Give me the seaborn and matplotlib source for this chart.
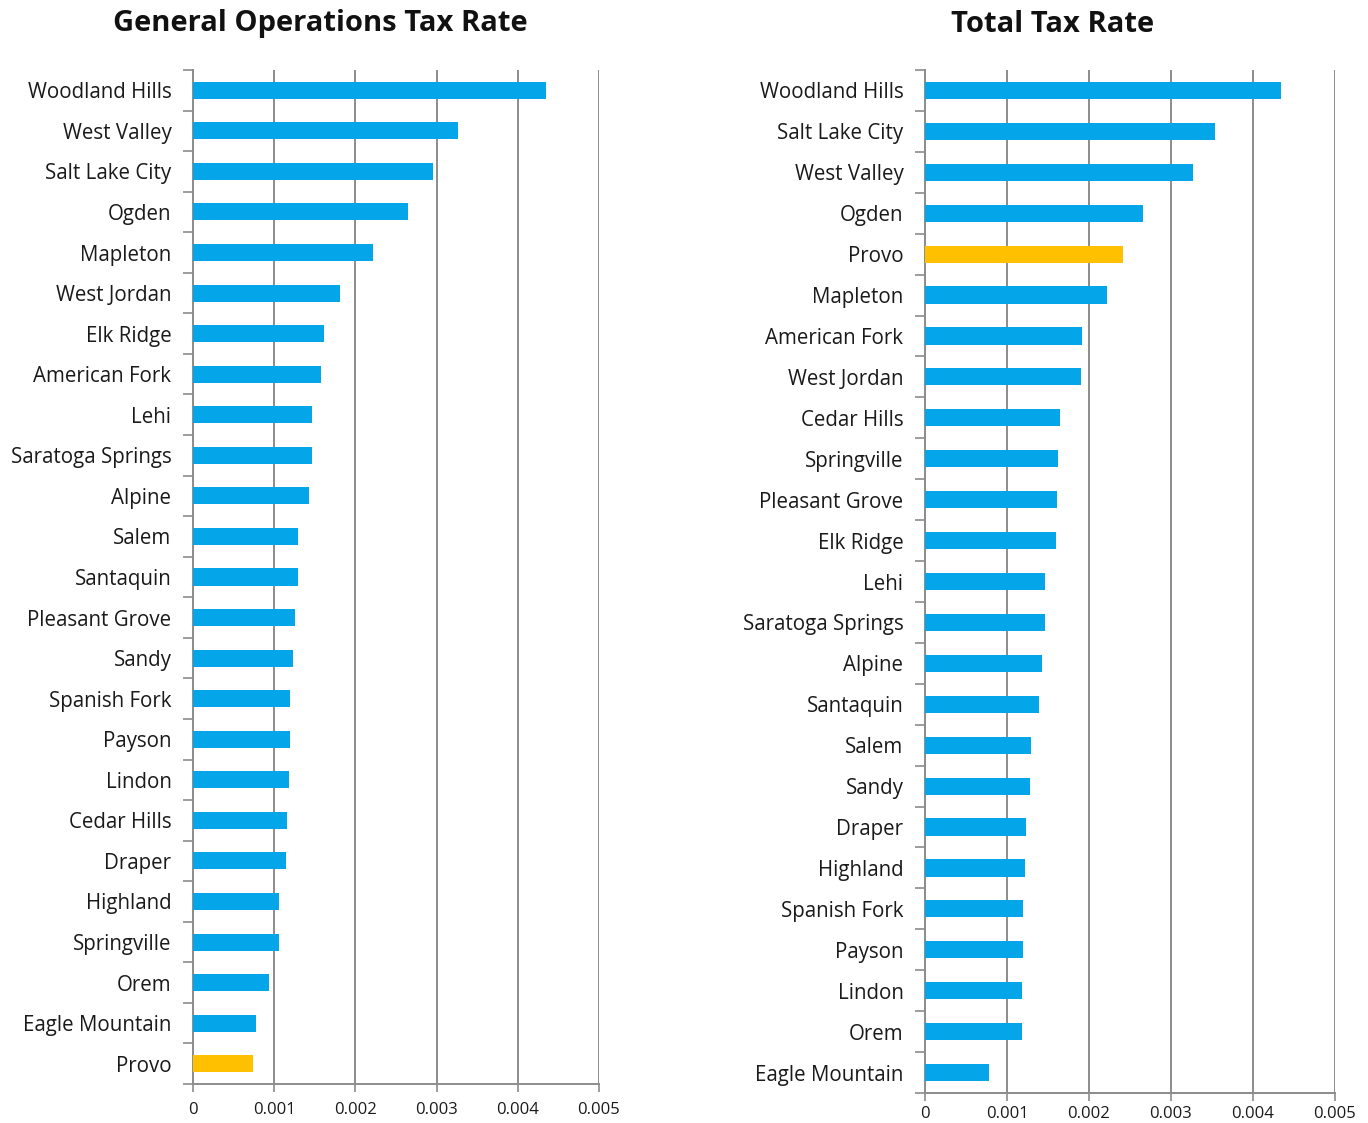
import numpy as np
import pandas as pd
import matplotlib
matplotlib.use("Agg")
import matplotlib.pyplot as plt
from matplotlib.ticker import FixedLocator, FuncFormatter
import seaborn as sns

# General operations tax rate by city (sorted, highest first)
gen_cities = ["Woodland Hills", "West Valley", "Salt Lake City", "Ogden", "Mapleton",
              "West Jordan", "Elk Ridge", "American Fork", "Lehi", "Saratoga Springs",
              "Alpine", "Salem", "Santaquin", "Pleasant Grove", "Sandy", "Spanish Fork",
              "Payson", "Lindon", "Cedar Hills", "Draper", "Highland", "Springville",
              "Orem", "Eagle Mountain", "Provo"]
gen_rates = [0.00435, 0.00326, 0.00295, 0.00265, 0.00222,
             0.00181, 0.00161, 0.00158, 0.00146, 0.00146,
             0.00143, 0.00129, 0.00129, 0.00125, 0.00123, 0.00120,
             0.00120, 0.00118, 0.00116, 0.00115, 0.00106, 0.00106,
             0.00094, 0.00078, 0.00074]

# Total tax rate by city (sorted, highest first)
tot_cities = ["Woodland Hills", "Salt Lake City", "West Valley", "Ogden", "Provo",
              "Mapleton", "American Fork", "West Jordan", "Cedar Hills", "Springville",
              "Pleasant Grove", "Elk Ridge", "Lehi", "Saratoga Springs", "Alpine",
              "Santaquin", "Salem", "Sandy", "Draper", "Highland", "Spanish Fork",
              "Payson", "Lindon", "Orem", "Eagle Mountain"]
tot_rates = [0.00434, 0.00354, 0.00327, 0.00266, 0.00242,
             0.00222, 0.00191, 0.00190, 0.00165, 0.00162,
             0.00161, 0.00160, 0.00146, 0.00146, 0.00143,
             0.00139, 0.00129, 0.00128, 0.00123, 0.00122, 0.00120,
             0.00120, 0.00118, 0.00118, 0.00078]

highlight_city = "Provo"
x_ticks = [0, 0.001, 0.002, 0.003, 0.004, 0.005]

BLUE = "#05A5E9"
GOLD = "#FFC000"
GRID = "#8C8C8C"
TEXT = "#1a1a1a"

sns.set_theme(style="white")
plt.rcParams["font.family"] = ["Open Sans", "DejaVu Sans"]

fig = plt.figure(figsize=(13.68, 11.23), dpi=100)
ax_gen = fig.add_axes([193 / 1368, 1 - 1084 / 1123, 406 / 1368, 1014 / 1123])
ax_tot = fig.add_axes([925 / 1368, 1 - 1093 / 1123, 410 / 1368, 1023 / 1123])


def draw_panel(ax, cities, rates, xpad):
    df = pd.DataFrame({"city": cities, "rate": rates})
    df["group"] = np.where(df["city"] == highlight_city, "hl", "base")
    sns.barplot(data=df, x="rate", y="city", hue="group", order=cities,
                palette={"base": BLUE, "hl": GOLD}, dodge=False, legend=False,
                width=0.42, saturation=1, linewidth=0, ax=ax, zorder=3)
    ax.set_xlim(0, 0.005)
    ax.set_ylim(len(cities) - 0.5, -0.5)
    ax.set_xlabel("")
    ax.set_ylabel("")

    ax.xaxis.set_major_locator(FixedLocator(x_ticks))
    ax.xaxis.set_major_formatter(FuncFormatter(lambda v, p: "0" if v == 0 else f"{v:.3f}"))
    ax.grid(axis="x", color=GRID, linewidth=1.4, zorder=0)
    ax.grid(axis="y", visible=False)

    for side in ("top", "right"):
        ax.spines[side].set_visible(False)
    for side in ("left", "bottom"):
        ax.spines[side].set_color(GRID)
        ax.spines[side].set_linewidth(1.4)

    # category separators on the y axis
    ax.yaxis.set_minor_locator(FixedLocator(np.arange(-0.5, len(cities), 1.0)))
    ax.tick_params(axis="y", which="major", length=0, pad=15.5, labelsize=14.8,
                   labelcolor=TEXT)
    ax.tick_params(axis="y", which="minor", length=7, width=1.2, color=GRID,
                   direction="out", left=True)
    ax.tick_params(axis="x", which="major", length=6, width=1.2, color=GRID,
                   direction="out", bottom=True, labelsize=12, labelcolor=TEXT, pad=xpad)


draw_panel(ax_gen, gen_cities, gen_rates, 7)
draw_panel(ax_tot, tot_cities, tot_rates, 3)

fig.text(320 / 1368, 1 - 24 / 1123, "General Operations Tax Rate", ha="center",
         va="center", fontsize=21, fontweight="bold", color="#111111")
fig.text(1053 / 1368, 1 - 24 / 1123, "Total Tax Rate", ha="center",
         va="center", fontsize=21, fontweight="bold", color="#111111")

fig.savefig("out.png", dpi=100, facecolor="white")
